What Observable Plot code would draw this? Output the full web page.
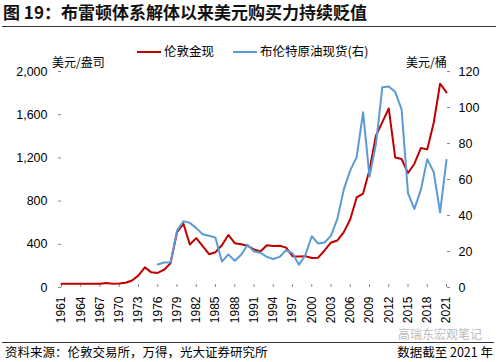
<!DOCTYPE html>
<html><head><meta charset="utf-8">
<script src="https://cdn.jsdelivr.net/npm/d3@7"></script>
<script src="https://cdn.jsdelivr.net/npm/@observablehq/plot@0.6"></script>
<style>
body{margin:0;width:500px;height:362px;position:relative;background:#fff;overflow:hidden;font-family:"Liberation Sans","Noto Sans CJK SC",sans-serif;color:#000}
.abs{position:absolute;white-space:nowrap}
#title{left:3px;top:2px;font-size:17px;line-height:20px;font-weight:bold;font-family:"Noto Sans CJK SC",sans-serif;color:#111}
#rule1{left:2px;top:26px;width:494px;height:0;border-top:1.3px solid #333}
.leg{font-size:12.5px;line-height:14px;font-family:"Noto Sans CJK SC",sans-serif}
.sw{height:2px}
.unit{font-size:12px;line-height:14px;font-family:"Noto Sans CJK SC",sans-serif}
#rule2{left:2px;top:342px;width:492px;height:0;border-top:1.2px solid #333}
.foot{font-size:12.5px;line-height:15px;font-family:"Noto Sans CJK SC",sans-serif;top:344px}
#chart{position:absolute;left:0;top:50px}
</style></head><body>
<div class="abs" id="title">图 19：布雷顿体系解体以来美元购买力持续贬值</div>
<div class="abs" id="rule1"></div>
<div class="abs sw" id="sw1" style="left:137px;top:51px;width:24px;background:#C00000"></div>
<div class="abs leg" id="lg1" style="left:164px;top:44px">伦敦金现</div>
<div class="abs sw" id="sw2" style="left:233px;top:51px;width:24px;background:#5B9BD5"></div>
<div class="abs leg" id="lg2" style="left:260px;top:44px">布伦特原油现货(右)</div>
<div class="abs unit" style="left:52px;top:55px">美元/盎司</div>
<div class="abs unit" style="left:406px;top:55px">美元/桶</div>
<div id="chart"></div>
<div class="abs" style="left:398px;top:327px;font-size:12px;line-height:14px;color:#bbb;font-family:'Noto Sans CJK SC',sans-serif">高瑞东宏观笔记</div>
<div class="abs" id="rule2"></div>
<div class="abs foot" style="left:5px">资料来源：伦敦交易所，万得，光大证券研究所</div>
<div class="abs foot" style="right:7px">数据截至 2021 年</div>
<script>
const goldYears = [1961,1962,1963,1964,1965,1966,1967,1968,1969,1970,1971,1972,1973,1974,1975,1976,1977,1978,1979,1980,1981,1982,1983,1984,1985,1986,1987,1988,1989,1990,1991,1992,1993,1994,1995,1996,1997,1998,1999,2000,2001,2002,2003,2004,2005,2006,2007,2008,2009,2010,2011,2012,2013,2014,2015,2016,2017,2018,2019,2020,2021];
const goldValues = [35.5,35.1,35.1,35.1,35.1,35.2,35.2,41.9,35.2,37.4,43.6,64.9,112.3,186.5,140.3,134.5,165.0,226.0,512.0,589.8,397.5,456.9,382.4,308.3,327.0,390.9,486.5,410.2,401.0,386.2,353.2,333.0,391.8,383.3,387.0,369.3,290.2,287.5,290.3,272.7,276.5,342.8,417.3,435.6,513.0,632.0,833.8,869.8,1087.5,1405.5,1531.0,1657.5,1204.5,1190.0,1060.0,1145.9,1291.0,1279.0,1523.0,1887.6,1805.9];
const oilYears = [1976,1977,1978,1979,1980,1981,1982,1983,1984,1985,1986,1987,1988,1989,1990,1991,1992,1993,1994,1995,1996,1997,1998,1999,2000,2001,2002,2003,2004,2005,2006,2007,2008,2009,2010,2011,2012,2013,2014,2015,2016,2017,2018,2019,2020,2021];
const oilValues = [12.8,13.9,14.0,31.6,36.8,35.9,33.0,29.6,28.8,27.6,14.4,18.4,14.9,18.2,23.7,20.0,19.3,17.0,15.8,17.0,20.7,19.1,12.7,18.0,28.5,24.4,25.0,28.8,38.3,54.5,65.1,72.4,97.3,61.7,79.5,111.3,111.7,108.7,99.0,52.4,43.7,54.2,71.3,64.2,41.8,70.9];
const xTicks = [1961,1964,1967,1970,1973,1976,1979,1982,1985,1988,1991,1994,1997,2000,2003,2006,2009,2012,2015,2018,2021];
const leftTicks = [0,400,800,1200,1600,2000];
const rightTicks = [0,20,40,60,80,100,120];

const leftMax = 2000, rightMax = 120;
const k = leftMax / rightMax;
const gold = goldYears.map((y, i) => ({year: y, v: goldValues[i]}));
const oil = oilYears.map((y, i) => ({year: y, v: oilValues[i]}));

const chart = Plot.plot({
  width: 500, height: 280,
  marginTop: 21, marginLeft: 61, marginRight: 54, marginBottom: 43,
  style: {fontFamily: "'Liberation Sans', Arial, sans-serif", fontSize: "12px", color: "#000", background: "transparent"},
  x: {domain: [1961, 2021]},
  y: {domain: [0, leftMax]},
  marks: [
    Plot.axisY({anchor: "left", ticks: leftTicks, tickFormat: d3.format(","), tickSize: 3, tickPadding: 11, line: true, stroke: "#888", fill: "#000", label: null, fontSize: 12.5}),
    Plot.axisY({anchor: "right", ticks: rightTicks.map(v => v * k), tickFormat: d => String(Math.round(d / k)), tickSize: 3, tickPadding: 9, line: true, stroke: "#888", fill: "#000", label: null, fontSize: 12.5}),
    Plot.axisX({ticks: xTicks, tickFormat: d => String(d), tickRotate: -90, tickSize: 0, tickPadding: 9, line: true, stroke: "#888", fill: "#000", label: null, fontSize: 12}),
    Plot.ruleX(xTicks, {x: d => d, y1: 0, y2: 0, insetTop: -3, stroke: "#888"}),
    Plot.line(gold, {x: "year", y: "v", stroke: "#C00000", strokeWidth: 2}),
    Plot.line(oil, {x: "year", y: d => d.v * k, stroke: "#5B9BD5", strokeWidth: 2})
  ]
});
document.getElementById("chart").appendChild(chart);
</script>
</body></html>
